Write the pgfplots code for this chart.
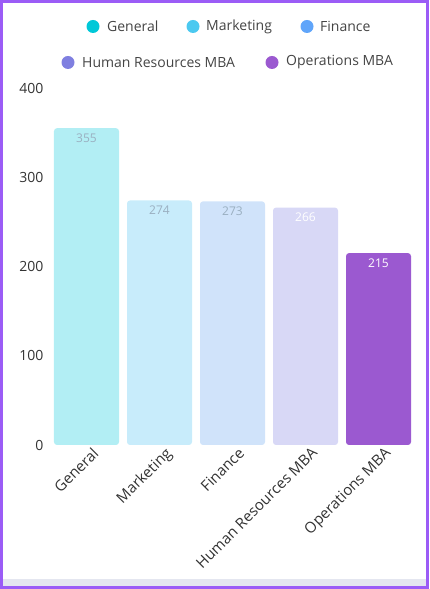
\documentclass[border=0pt]{standalone}
\usepackage{pgfplots}
\pgfplotsset{compat=1.18}
\usepackage{fontspec}
\setmainfont{Open Sans}
\pgfkeys{/pgf/number format/assume math mode=true}
\definecolor{border}{HTML}{9B5CF6}
\definecolor{strip}{HTML}{E4E6F0}
\definecolor{txt}{HTML}{333333}
\definecolor{legtxt}{HTML}{444444}
\definecolor{cA}{HTML}{B2EEF4}
\definecolor{cB}{HTML}{C8ECFB}
\definecolor{cC}{HTML}{D0E3FA}
\definecolor{cD}{HTML}{D8D8F6}
\definecolor{cE}{HTML}{9B59D0}
\definecolor{mA}{HTML}{00C8D8}
\definecolor{mB}{HTML}{4CC9F0}
\definecolor{mC}{HTML}{60A5FA}
\definecolor{mD}{HTML}{7F7FE0}
\definecolor{mE}{HTML}{9B59D0}
\definecolor{lblgray}{HTML}{9AAFC0}
\begin{document}
\begin{tikzpicture}[x=1pt,y=1pt]
\path[use as bounding box] (0,0) rectangle (429,589);
\fill[strip] (3,3) rectangle (426,10);
\draw[border, line width=3pt] (1.5,1.5) rectangle (427.5,587.5);
% legend
\begin{scope}[every node/.style={font=\fontsize{14}{16}\selectfont, text=legtxt, anchor=west, inner sep=0pt}]
\fill[mA] (93,562.5) circle (6.5); \node at (107,562.5) {General};
\fill[mB] (193,562.5) circle (6.5); \node at (206,562.5) {Marketing};
\fill[mC] (307,562.5) circle (6.5); \node at (320,562.5) {Finance};
\fill[mD] (68,526.5) circle (6.5); \node at (82,526.5) {Human Resources MBA};
\fill[mE] (272,526.5) circle (6.5); \node at (286,526.5) {Operations MBA};
\end{scope}
\begin{axis}[
  at={(50pt,144pt)}, anchor=south west,
  scale only axis, width=365pt, height=357pt,
  xmin=-0.5, xmax=4.5, ymin=0, ymax=400,
  axis line style={draw=none}, major tick length=0pt,
  ytick={0,100,200,300,400},
  xtick={0,1,2,3,4},
  xticklabels={General,Marketing,Finance,Human Resources MBA,Operations MBA},
  /pgf/number format/assume math mode=true,
  tick label style={text=txt},
  yticklabel style={font=\fontsize{14}{16}\selectfont, xshift=-3pt},
  xticklabel style={font=\fontsize{15}{17}\selectfont, rotate=45, anchor=north east, xshift=6pt, yshift=-1pt},
  ybar, bar width=65pt, bar shift=0pt,
  nodes near coords,
  every node near coord/.append style={anchor=north, yshift=-2pt, font=\fontsize{12}{14}\selectfont},
]
\addplot[fill=cA, draw=none, rounded corners=3pt, every node near coord/.append style={text=lblgray}] coordinates {(0,355)};
\addplot[fill=cB, draw=none, rounded corners=3pt, every node near coord/.append style={text=lblgray}] coordinates {(1,274)};
\addplot[fill=cC, draw=none, rounded corners=3pt, every node near coord/.append style={text=lblgray}] coordinates {(2,273)};
\addplot[fill=cD, draw=none, rounded corners=3pt, every node near coord/.append style={text=white}] coordinates {(3,266)};
\addplot[fill=cE, draw=none, rounded corners=3pt, every node near coord/.append style={text=white}] coordinates {(4,215)};
\end{axis}
\end{tikzpicture}
\end{document}
